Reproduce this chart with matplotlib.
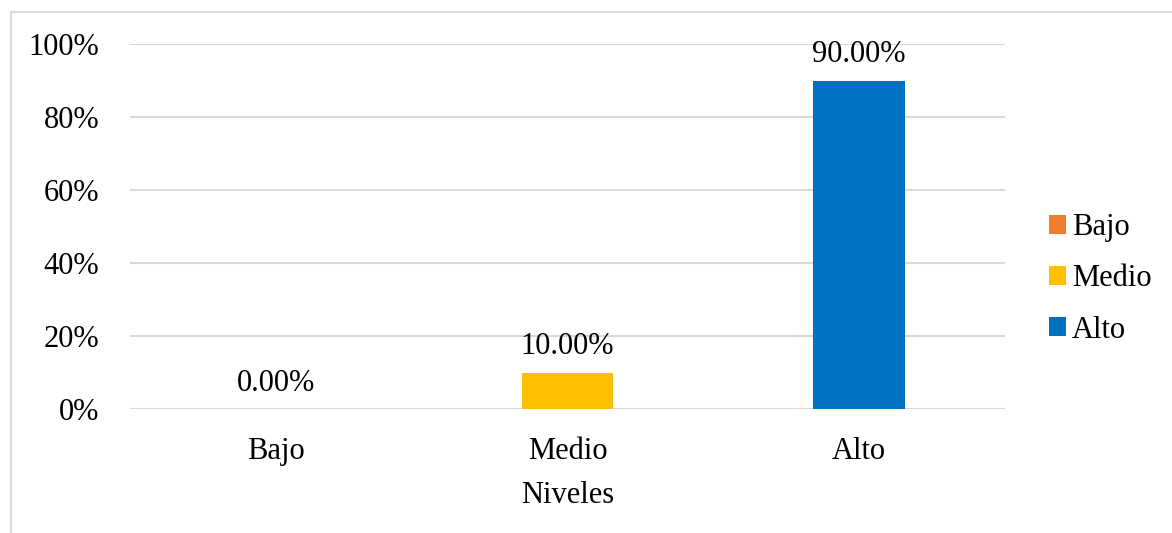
import matplotlib
matplotlib.use("Agg")
import matplotlib.pyplot as plt
from matplotlib.patches import Patch, Rectangle

categories = ["Bajo", "Medio", "Alto"]
values = [0.0, 10.0, 90.0]
colors = ["#ED7D31", "#FFC000", "#0070C0"]
yticks = [0, 20, 40, 60, 80, 100]
ytick_labels = ["0%", "20%", "40%", "60%", "80%", "100%"]
xlabel = "Niveles"

plt.rcParams["font.family"] = ["Liberation Serif", "DejaVu Serif"]
FS = 22

fig = plt.figure(figsize=(11.72, 5.33), dpi=100)
W, H = 1172, 533
# plot area in pixels: x 130..1005, y 44..409
ax = fig.add_axes([130 / W, 1 - 409 / H, (1005 - 130) / W, (409 - 44) / H])

x = list(range(len(categories)))
ax.bar(x, values, width=0.315, color=colors, zorder=3)
ax.set_xlim(-0.5, 2.5)
ax.set_ylim(0, 100)
ax.set_yticks(yticks)
ax.set_yticklabels(ytick_labels, fontsize=FS)
ax.set_xticks(x)
ax.set_xticklabels(categories, fontsize=FS)
ax.tick_params(axis="both", length=0)
ax.tick_params(axis="y", pad=22)
ax.tick_params(axis="x", pad=20)
ax.grid(axis="y", color="#D9D9D9", linewidth=1.5, zorder=0)
for s in ax.spines.values():
    s.set_visible(False)
ax.set_xlabel(xlabel, fontsize=FS, labelpad=11)

for xi, v in zip(x, values):
    ax.annotate(f"{v:.2f}%", (xi, v), xytext=(0, 8), textcoords="offset points",
                ha="center", va="bottom", fontsize=FS)

handles = [Patch(facecolor=c, edgecolor="none") for c in colors]
fig.legend(handles, categories, loc="center left", bbox_to_anchor=(1037 / W, 1 - 279 / H),
           frameon=False, fontsize=FS, handlelength=0.55, handleheight=0.55,
           handletextpad=0.2, labelspacing=0.72, borderaxespad=0)

# outer chart border (left and top visible)
fig.patches.append(Rectangle((11 / W, -0.1), 1.2, 1 - 12 / H + 0.1, transform=fig.transFigure,
                             fill=False, edgecolor="#D9D9D9", linewidth=1.5))

fig.savefig("out.png", dpi=100)
